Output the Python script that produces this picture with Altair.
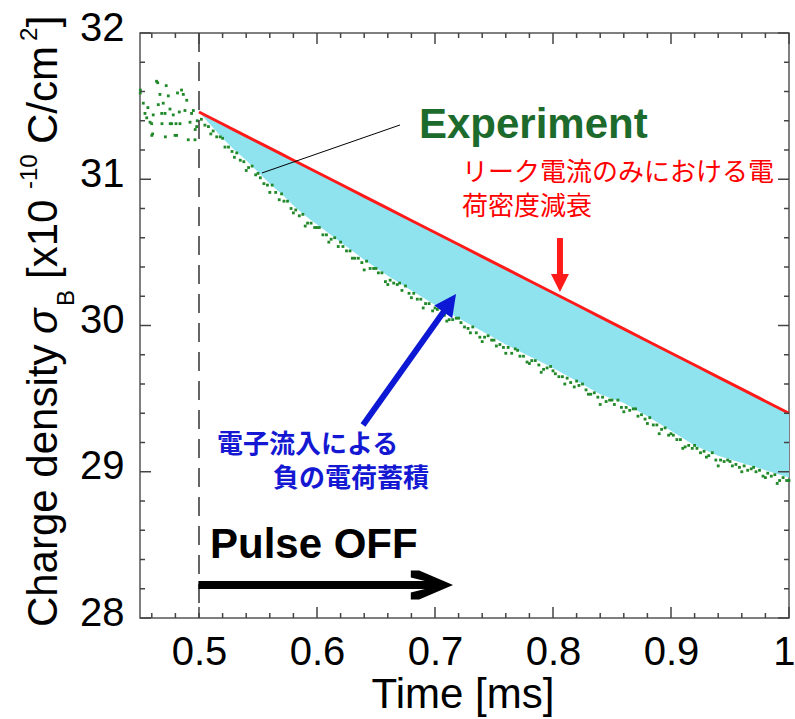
import altair as alt
import pandas as pd

# ---- measured charge density (green dots) ----
pre_t = [0.4502, 0.4503, 0.4528, 0.4542, 0.4557, 0.4567, 0.4585, 0.4599, 0.4600, 0.4607,
         0.4612, 0.4640, 0.4650, 0.4655, 0.4669, 0.4684, 0.4686, 0.4697, 0.4712, 0.4715,
         0.4722, 0.4740, 0.4754, 0.4756, 0.4768, 0.4782, 0.4797, 0.4805, 0.4810, 0.4818,
         0.4833, 0.4839, 0.4852, 0.4867, 0.4881, 0.4896, 0.4909, 0.4924, 0.4937, 0.4952,
         0.4966, 0.4968, 0.4980, 0.4985]
pre_sigma = [31.59, 31.61, 31.52, 31.45, 31.42, 31.49, 31.39, 31.38, 31.30, 31.31,
             31.44, 31.67, 31.66, 31.51, 31.58, 31.45, 31.38, 31.52, 31.45, 31.29,
             31.64, 31.57, 31.48, 31.38, 31.38, 31.44, 31.30, 31.38, 31.30, 31.59,
             31.46, 31.38, 31.61, 31.58, 31.47, 31.54, 31.27, 31.39, 31.45, 31.47,
             31.27, 31.34, 31.36, 31.40]

exp_t = [0.502, 0.505, 0.508, 0.512, 0.515, 0.518, 0.522, 0.525, 0.528, 0.532, 0.535, 0.538,
         0.542, 0.545, 0.548, 0.552, 0.555, 0.558, 0.562, 0.565, 0.568, 0.572, 0.575, 0.578,
         0.582, 0.585, 0.588, 0.592, 0.595, 0.598, 0.602, 0.605, 0.608, 0.612, 0.615, 0.618,
         0.622, 0.625, 0.628, 0.632, 0.635, 0.638, 0.642, 0.645, 0.648, 0.652, 0.655, 0.658,
         0.662, 0.665, 0.668, 0.672, 0.675, 0.678, 0.682, 0.685, 0.688, 0.692, 0.695, 0.698,
         0.702, 0.705, 0.708, 0.712, 0.715, 0.718, 0.722, 0.725, 0.728, 0.732, 0.735, 0.738,
         0.742, 0.745, 0.748, 0.752, 0.755, 0.758, 0.762, 0.765, 0.768, 0.772, 0.775, 0.778,
         0.782, 0.785, 0.788, 0.792, 0.795, 0.798, 0.802, 0.805, 0.808, 0.812, 0.815, 0.818,
         0.822, 0.825, 0.828, 0.832, 0.835, 0.838, 0.842, 0.845, 0.848, 0.852, 0.855, 0.858,
         0.862, 0.865, 0.868, 0.872, 0.875, 0.878, 0.882, 0.885, 0.888, 0.892, 0.895, 0.898,
         0.902, 0.905, 0.908, 0.912, 0.915, 0.918, 0.922, 0.925, 0.928, 0.932, 0.935, 0.938,
         0.942, 0.945, 0.948, 0.952, 0.955, 0.958, 0.962, 0.965, 0.968, 0.972, 0.975, 0.978,
         0.982, 0.985, 0.988, 0.992, 0.995, 0.998]
exp_sigma = [31.41, 31.37, 31.36, 31.33, 31.29, 31.29, 31.22, 31.22, 31.19, 31.18, 31.13, 31.12,
             31.08, 31.09, 31.03, 31.01, 30.97, 30.96, 30.96, 30.91, 30.86, 30.85, 30.85, 30.80,
             30.79, 30.75, 30.76, 30.70, 30.70, 30.67, 30.67, 30.62, 30.62, 30.59, 30.60, 30.54,
             30.54, 30.51, 30.51, 30.46, 30.46, 30.43, 30.44, 30.39, 30.39, 30.36, 30.36, 30.30,
             30.31, 30.29, 30.28, 30.24, 30.27, 30.22, 30.22, 30.18, 30.18, 30.15, 30.15, 30.10,
             30.11, 30.12, 30.07, 30.04, 30.04, 30.05, 30.02, 29.99, 29.98, 29.99, 29.95, 29.92,
             29.92, 29.93, 29.90, 29.86, 29.87, 29.85, 29.85, 29.81, 29.84, 29.79, 29.79, 29.75,
             29.76, 29.76, 29.73, 29.70, 29.71, 29.72, 29.67, 29.65, 29.65, 29.64, 29.61, 29.58,
             29.59, 29.60, 29.56, 29.53, 29.54, 29.51, 29.51, 29.48, 29.49, 29.46, 29.49, 29.44,
             29.44, 29.42, 29.43, 29.38, 29.39, 29.36, 29.37, 29.32, 29.32, 29.29, 29.30, 29.25,
             29.25, 29.22, 29.22, 29.17, 29.18, 29.16, 29.16, 29.13, 29.14, 29.11, 29.13, 29.08,
             29.08, 29.07, 29.08, 29.04, 29.05, 29.03, 29.04, 29.01, 29.02, 29.00, 29.01, 28.97,
             28.99, 28.97, 28.98, 28.94, 28.96, 28.94]

# further samples of the same record (every 0.01 ms)
extra_t = [0.51, 0.52, 0.53, 0.54, 0.55, 0.56, 0.57, 0.58, 0.59, 0.60,
           0.61, 0.62, 0.63, 0.64, 0.65, 0.66, 0.67, 0.68, 0.69, 0.70,
           0.71, 0.72, 0.73, 0.74, 0.75, 0.76, 0.77, 0.78, 0.79, 0.80,
           0.81, 0.82, 0.83, 0.84, 0.85, 0.86, 0.87, 0.88, 0.89, 0.90,
           0.91, 0.92, 0.93, 0.94, 0.95, 0.96, 0.97, 0.98, 0.99, 1.00]
extra_sigma = [31.31, 31.28, 31.15, 31.06, 31.04, 30.91, 30.90, 30.77, 30.68, 30.67,
               30.57, 30.57, 30.46, 30.38, 30.39, 30.28, 30.29, 30.19, 30.12, 30.12,
               30.03, 30.05, 29.95, 29.89, 29.90, 29.81, 29.83, 29.74, 29.68, 29.69,
               29.60, 29.62, 29.53, 29.46, 29.49, 29.41, 29.43, 29.33, 29.26, 29.26,
               29.16, 29.18, 29.10, 29.04, 29.07, 29.00, 29.03, 28.96, 28.92, 28.94]

# ---- leak-current-only decay (red) and trend of the measurement (lower edge of band) ----
band_t = [0.50, 0.51, 0.52, 0.53, 0.54, 0.55, 0.56, 0.57, 0.58, 0.59, 0.60, 0.62, 0.64, 0.66,
          0.68, 0.70, 0.72, 0.74, 0.76, 0.78, 0.80, 0.82, 0.84, 0.86, 0.88, 0.90, 0.92, 0.94,
          0.96, 0.98, 1.00]
leak_sigma = [31.460, 31.419, 31.378, 31.336, 31.295, 31.254, 31.213, 31.172, 31.130, 31.089,
              31.048, 30.966, 30.883, 30.801, 30.718, 30.636, 30.554, 30.471, 30.389, 30.306,
              30.224, 30.142, 30.059, 29.977, 29.894, 29.812, 29.730, 29.647, 29.565, 29.482,
              29.400]
trend_sigma = [31.46, 31.37, 31.28, 31.20, 31.13, 31.05, 30.97, 30.90, 30.82, 30.75, 30.69, 30.57,
               30.45, 30.34, 30.24, 30.14, 30.05, 29.96, 29.87, 29.79, 29.71, 29.62, 29.53, 29.47,
               29.38, 29.28, 29.18, 29.11, 29.06, 29.01, 28.96]

# ---- axis ticks ----
x_major = [0.5, 0.6, 0.7, 0.8, 0.9, 1.0]
x_minor = [0.46, 0.48, 0.52, 0.54, 0.56, 0.58, 0.62, 0.64, 0.66, 0.68, 0.72, 0.74,
           0.76, 0.78, 0.82, 0.84, 0.86, 0.88, 0.92, 0.94, 0.96, 0.98]
y_major = [28, 29, 30, 31, 32]
y_minor = [28.2, 28.4, 28.6, 28.8, 29.2, 29.4, 29.6, 29.8, 30.2, 30.4, 30.6, 30.8,
           31.2, 31.4, 31.6, 31.8]

W, H = 649, 585
LATIN = "Liberation Sans"
CJK = "Noto Sans CJK JP"
TICK = "#444444"
xs = alt.Scale(domain=[0.45, 1.0], nice=False, zero=False)
ys = alt.Scale(domain=[28, 32], nice=False, zero=False)

# one shared axis definition per direction, used by every layer so the merge keeps labels
x_axis = alt.Axis(values=x_major, format="~g", title=None, ticks=False, tickSize=0,
                  domain=False, grid=False, labelFont=LATIN, labelFontSize=40,
                  labelColor="black", labelPadding=14, labelFlush=True, labelFlushOffset=6,
                  labelOverlap=False)
y_axis = alt.Axis(values=y_major, format="d", title=None, ticks=False, tickSize=0,
                  domain=False, grid=False, labelFont=LATIN, labelFontSize=40,
                  labelColor="black", labelPadding=16, labelOffset=-5, labelOverlap=False)


def X(field="t"):
    return alt.X(f"{field}:Q", scale=xs, axis=x_axis)


def Y(field="s"):
    return alt.Y(f"{field}:Q", scale=ys, axis=y_axis)


band_df = pd.DataFrame({"t": band_t, "leak": leak_sigma, "trend": trend_sigma})
dots_df = pd.DataFrame({"t": pre_t + exp_t + extra_t, "s": pre_sigma + exp_sigma + extra_sigma})

band = alt.Chart(band_df).mark_area(color="#8fe3ee", opacity=1).encode(
    x=X(), y=Y("leak"), y2="trend:Q")
leak = alt.Chart(band_df).mark_line(color="#ff1a1a", strokeWidth=3).encode(x=X(), y=Y("leak"))
dots = alt.Chart(dots_df).mark_square(size=8, color="#22892b", opacity=1).encode(x=X(), y=Y())

pulse_line = alt.Chart(pd.DataFrame({"t": [0.5]})).mark_rule(
    color="#333333", strokeWidth=1.5, strokeDash=[19, 10]).encode(x=X())


def vticks(vals, y0, y1):
    return alt.Chart(pd.DataFrame({"t": vals})).mark_rule(color=TICK, strokeWidth=1.5).encode(
        x=X(), y=alt.value(y0), y2=alt.value(y1))


def hticks(vals, x0, x1):
    return alt.Chart(pd.DataFrame({"s": vals})).mark_rule(color=TICK, strokeWidth=1.5).encode(
        y=Y(), x=alt.value(x0), x2=alt.value(x1))


ticks = [
    vticks(x_major, H, H - 11), vticks(x_minor, H, H - 5),
    vticks(x_major, 0, 11), vticks(x_minor, 0, 5),
    hticks(y_major, 0, 11), hticks(y_minor, 0, 5),
    hticks(y_major, W, W - 11), hticks(y_minor, W, W - 5),
]

# leader line from the dots to the "Experiment" label
leader = alt.Chart(pd.DataFrame({"t": [0.5534], "s": [31.043], "t2": [0.6703], "s2": [31.371]})).mark_rule(
    color="black", strokeWidth=1).encode(x=X(), y=Y(), x2="t2:Q", y2="s2:Q")

# arrows: shafts and heads (head path has its tip at the origin, pointing up)
HEAD = "M0,0L-0.45,0.9L0.45,0.9Z"
red_shaft = alt.Chart(pd.DataFrame({"t": [0.8059], "s": [30.598], "s2": [30.32]})).mark_rule(
    color="#ff1a1a", strokeWidth=6).encode(x=X(), y=Y(), y2="s2:Q")
red_head = alt.Chart(pd.DataFrame({"t": [0.8059], "s": [30.229]})).mark_point(
    shape=HEAD, size=1600, angle=180, filled=True, color="#ff1a1a", opacity=1, strokeWidth=0).encode(x=X(), y=Y())

blue_shaft = alt.Chart(pd.DataFrame({"t": [0.6390], "s": [29.320], "t2": [0.7102], "s2": [30.127]})).mark_rule(
    color="#0c18d4", strokeWidth=6).encode(x=X(), y=Y(), x2="t2:Q", y2="s2:Q")
blue_head = alt.Chart(pd.DataFrame({"t": [0.7178], "s": [30.215]})).mark_point(
    shape=HEAD, size=2390, angle=35.4, filled=True, color="#0c18d4", opacity=1, strokeWidth=0).encode(x=X(), y=Y())

CHEVRON = ("M0,0L-0.77,-0.33L-0.96,-0.33L-0.96,-0.17L-0.48,-0.05"
           "L-0.48,0.05L-0.96,0.17L-0.96,0.33L-0.77,0.33Z")
black_shaft = alt.Chart(pd.DataFrame({"t": [0.4995], "s": [28.226], "t2": [0.6975]})).mark_rule(
    color="black", strokeWidth=8).encode(x=X(), y=Y(), x2="t2:Q")
black_head = alt.Chart(pd.DataFrame({"t": [0.7153], "s": [28.226]})).mark_point(
    shape=CHEVRON, size=7744, filled=True, color="black", opacity=1, strokeWidth=0).encode(x=X(), y=Y())


def label(df, **kw):
    return alt.Chart(df).mark_text(**kw).encode(x=X(), y=Y(), text="txt:N")


texts = [
    label(pd.DataFrame({"t": [0.6864], "s": [31.282], "txt": ["Experiment"]}),
          font=LATIN, fontSize=42, fontWeight="bold", color="#1d6b2c", align="left", baseline="alphabetic"),
    label(pd.DataFrame({"t": [0.7229, 0.7229], "s": [31.04, 30.81],
                        "txt": ["リーク電流のみにおける電", "荷密度減衰"]}),
          font=CJK, fontSize=26, color="#ff0000", align="left", baseline="middle"),
    label(pd.DataFrame({"t": [0.5153, 0.5627], "s": [29.18, 28.95],
                        "txt": ["電子流入による", "負の電荷蓄積"]}),
          font=CJK, fontSize=26, fontWeight="bold", color="#1418d2", align="left", baseline="middle"),
    label(pd.DataFrame({"t": [0.5093], "s": [28.410], "txt": ["Pulse OFF"]}),
          font=LATIN, fontSize=42, fontWeight="bold", color="black", align="left", baseline="alphabetic"),
    label(pd.DataFrame({"t": [0.7237], "s": [27.385], "txt": ["Time [ms]"]}),
          font=LATIN, fontSize=42, color="black", align="center", baseline="alphabetic"),
    # vertical axis title, built from pieces so that subscript and superscripts can be set
    label(pd.DataFrame({"t": [0.3797, 0.3797, 0.3797, 0.3797],
                        "s": [27.938, 30.318, 31.241, 32.04],
                        "txt": ["Charge density", "[x10", "C/cm", "]"]}),
          font=LATIN, fontSize=42, color="black", angle=270, align="left", baseline="alphabetic"),
    label(pd.DataFrame({"t": [0.3797], "s": [29.942], "txt": ["σ"]}),
          font=LATIN, fontSize=42, fontStyle="italic", color="black", angle=270, align="left",
          baseline="alphabetic"),
    label(pd.DataFrame({"t": [0.3941], "s": [30.133], "txt": ["B"]}),
          font=LATIN, fontSize=24, color="black", angle=270, align="left", baseline="alphabetic"),
    label(pd.DataFrame({"t": [0.3628, 0.3628], "s": [30.933, 31.945], "txt": ["-10", "2"]}),
          font=LATIN, fontSize=24, color="black", angle=270, align="left", baseline="alphabetic"),
]

chart = alt.layer(
    band, leak, dots, pulse_line, *ticks, leader,
    red_shaft, red_head, blue_shaft, blue_head, black_shaft, black_head, *texts,
).properties(
    width=W, height=H,
    padding={"left": 140, "top": 33, "right": 6, "bottom": 101},
    autosize=alt.AutoSizeParams(type="none"),
    background="white",
).configure_view(stroke="#555555", strokeWidth=1.5)

chart.save("out.html", embed_options={"renderer": "svg", "actions": False})
